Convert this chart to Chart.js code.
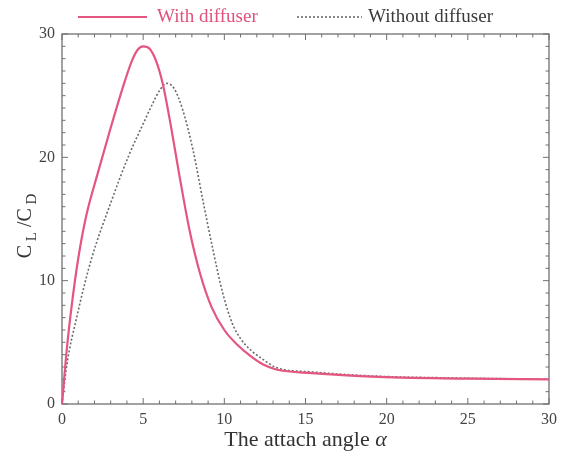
<!DOCTYPE html>
<html>
<head>
<meta charset="utf-8">
<script src="https://cdn.jsdelivr.net/npm/chart.js@4.4.1/dist/chart.umd.min.js"></script>
<style>
  html, body { margin: 0; padding: 0; background: #fff; }
  canvas { display: block; }
</style>
</head>
<body>
<canvas id="ratioChart" width="563" height="454"></canvas>
<script>
// C_L/C_D against attach angle, with and without the diffuser
const angleWith = [0, 0.3, 0.6, 1.0, 1.5, 2.2, 3.0, 3.9, 4.3, 4.65, 5.0, 5.4, 5.8, 6.2, 6.7, 7.25, 7.87, 8.5, 9.2, 10.0, 10.8, 11.6, 12.4, 13.2, 15.4, 19.5, 25, 30];
const ratioWith = [0, 4.5, 8.0, 11.8, 15.3, 18.7, 22.4, 26.3, 27.8, 28.7, 29.0, 28.8, 27.8, 26.0, 22.6, 18.4, 14.0, 10.6, 7.9, 6.0, 4.8, 3.9, 3.2, 2.8, 2.5, 2.2, 2.05, 2.0];

const angleWithout = [0, 0.3, 0.9, 1.8, 3.0, 4.1, 5.1, 5.6, 6.0, 6.45, 6.9, 7.4, 8.07, 8.68, 9.3, 9.9, 10.5, 11.0, 11.6, 12.4, 13.2, 15.4, 19.5, 25, 30];
const ratioWithout = [0, 3.2, 7.0, 11.7, 16.3, 20.1, 23.0, 24.4, 25.4, 26.0, 25.6, 24.0, 20.6, 16.5, 12.5, 9.0, 6.5, 5.3, 4.4, 3.6, 2.95, 2.6, 2.25, 2.1, 2.0];

const seriesNames = ['With diffuser', 'Without diffuser'];
const seriesColors = ['#e4557f', '#6b6b6b'];
const legendTextColors = ['#e2507c', '#3a3a3a'];

const serif = "'Liberation Serif', 'Times New Roman', serif";
const axisColor = '#707070';

function toPoints(xs, ys) {
    return xs.map((x, i) => ({ x: x, y: ys[i] }));
}

// box round the plot with small inward ticks on every side
const framePlugin = {
    id: 'frame',
    beforeDatasetsDraw(chart) {
        const ctx = chart.ctx;
        const area = chart.chartArea;
        const xs = chart.scales.x;
        const ys = chart.scales.y;
        ctx.save();
        ctx.strokeStyle = axisColor;
        ctx.lineWidth = 1.3;
        ctx.strokeRect(area.left, area.top, area.right - area.left, area.bottom - area.top);
        ctx.lineWidth = 1;
        ctx.beginPath();
        for (let v = 0; v <= 30; v++) {
            const px = xs.getPixelForValue(v);
            const len = v % 5 === 0 ? 6 : 3.5;
            ctx.moveTo(px, area.bottom);
            ctx.lineTo(px, area.bottom - len);
            ctx.moveTo(px, area.top);
            ctx.lineTo(px, area.top + len);
        }
        for (let v = 0; v <= 30; v++) {
            const py = ys.getPixelForValue(v);
            const len = v % 10 === 0 ? 6 : 3.5;
            ctx.moveTo(area.left, py);
            ctx.lineTo(area.left + len, py);
            ctx.moveTo(area.right, py);
            ctx.lineTo(area.right - len, py);
        }
        ctx.stroke();
        ctx.restore();
    },
    afterDraw(chart) {
        const ctx = chart.ctx;
        const area = chart.chartArea;
        ctx.save();
        ctx.fillStyle = '#333';
        ctx.textBaseline = 'alphabetic';

        // legend row above the plot
        const legendSlots = [
            { lineFrom: 78, lineTo: 147, textX: 157 },
            { lineFrom: 297, lineTo: 362, textX: 368 }
        ];
        const legendY = 17;
        chart.data.datasets.forEach((ds, i) => {
            const slot = legendSlots[i];
            ctx.save();
            ctx.strokeStyle = ds.borderColor;
            ctx.lineWidth = ds.borderWidth;
            ctx.setLineDash(ds.borderDash || []);
            ctx.beginPath();
            ctx.moveTo(slot.lineFrom, legendY);
            ctx.lineTo(slot.lineTo, legendY);
            ctx.stroke();
            ctx.restore();
            ctx.font = '19px ' + serif;
            ctx.fillStyle = legendTextColors[i];
            ctx.textBaseline = 'middle';
            ctx.fillText(ds.label, slot.textX, legendY);
        });
        ctx.fillStyle = '#333';
        ctx.textBaseline = 'alphabetic';

        // x title: plain text then an italic alpha
        const big = '22px ' + serif;
        const ital = 'italic 22px ' + serif;
        ctx.font = big;
        const xText = 'The attach angle ';
        const w1 = ctx.measureText(xText).width;
        ctx.font = ital;
        const w2 = ctx.measureText('\u03b1').width;
        const x0 = (area.left + area.right) / 2 - (w1 + w2) / 2;
        const yBase = 446;
        ctx.font = big;
        ctx.fillText(xText, x0, yBase);
        ctx.font = ital;
        ctx.fillText('\u03b1', x0 + w1, yBase);

        // y title C_L / C_D, rotated, subscripts toward the axis
        const parts = [
            { t: 'C', f: '20px ' + serif, dy: 0 },
            { t: ' L', f: '15px ' + serif, dy: 5 },
            { t: ' /C', f: '20px ' + serif, dy: 0 },
            { t: ' D', f: '15px ' + serif, dy: 5 }
        ];
        let total = 0;
        parts.forEach(p => { ctx.font = p.f; p.w = ctx.measureText(p.t).width; total += p.w; });
        ctx.translate(31, 226);
        ctx.rotate(-Math.PI / 2);
        let cx = -total / 2;
        parts.forEach(p => {
            ctx.font = p.f;
            ctx.fillText(p.t, cx, p.dy);
            cx += p.w;
        });
        ctx.restore();
    }
};

new Chart(document.getElementById('ratioChart'), {
    type: 'line',
    data: {
        datasets: [{
            label: seriesNames[0],
            data: toPoints(angleWith, ratioWith),
            borderColor: seriesColors[0],
            borderWidth: 2.2,
            pointRadius: 0,
            cubicInterpolationMode: 'monotone'
        }, {
            label: seriesNames[1],
            data: toPoints(angleWithout, ratioWithout),
            borderColor: seriesColors[1],
            borderWidth: 1.6,
            borderDash: [2, 2],
            pointRadius: 0,
            cubicInterpolationMode: 'monotone'
        }]
    },
    options: {
        responsive: false,
        devicePixelRatio: 1,
        animation: false,
        layout: { padding: { top: 34, right: 13, left: 0, bottom: 0 } },
        plugins: {
            tooltip: { enabled: false },
            legend: { display: false }
        },
        scales: {
            x: {
                type: 'linear',
                min: 0,
                max: 30,
                grid: { display: false, drawTicks: false },
                border: { display: false },
                ticks: { stepSize: 5, padding: 6, color: '#444', font: { family: serif, size: 16 } },
                afterFit(scale) { scale.height = 50; }
            },
            y: {
                min: 0,
                max: 30,
                grid: { display: false, drawTicks: false },
                border: { display: false },
                ticks: { stepSize: 10, padding: 7, color: '#444', font: { family: serif, size: 16 } },
                afterFit(scale) { scale.width = 62; }
            }
        }
    },
    plugins: [framePlugin]
});
</script>
</body>
</html>
